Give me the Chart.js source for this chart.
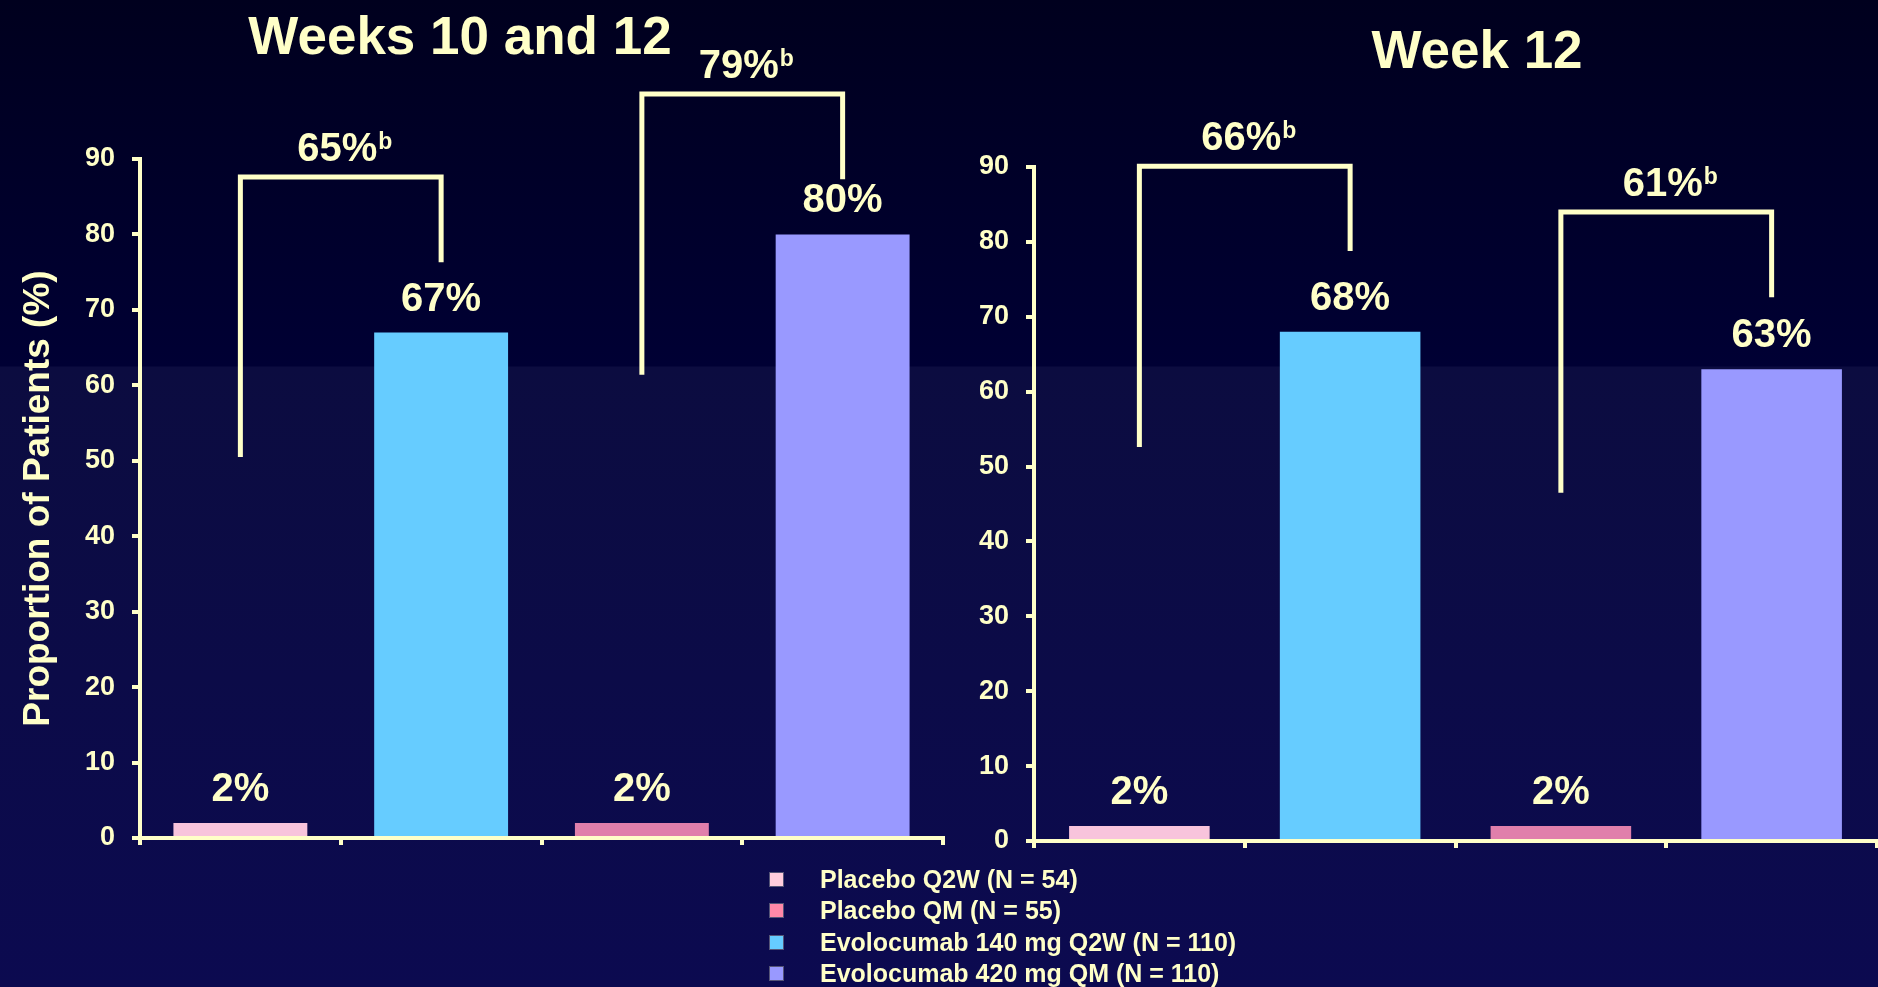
<!DOCTYPE html>
<html>
<head>
<meta charset="utf-8">
<script src="https://cdn.jsdelivr.net/npm/chart.js@4.4.1/dist/chart.umd.min.js"></script>
<style>
  html, body { margin: 0; padding: 0; width: 1878px; height: 987px; overflow: hidden; }
  body {
    position: relative;
    background: linear-gradient(to bottom, #00001e 0px, #000034 366px, #0c0c40 367px, #0c0a50 987px);
    font-family: "Liberation Sans", Arial, sans-serif;
  }
  .panel { position: absolute; top: 0; height: 987px; }
  #leftPanel { left: 0; width: 960px; }
  #rightPanel { left: 960px; width: 918px; }
  .title {
    position: absolute; color: #ffffc8; font-weight: bold; font-size: 53px;
    line-height: 53px; white-space: nowrap; transform: translateX(-50%);
  }
  #legend { position: absolute; left: 769px; top: 0; }
  .row { position: absolute; left: 0; height: 31px; line-height: 31px; white-space: nowrap;
         color: #ffffc8; font-weight: bold; font-size: 25px; }
  .swatch { position: absolute; left: 0; top: 8px; width: 13px; height: 13px; border: 1px solid #555577; }
  .row span.txt { position: absolute; left: 51px; top: 0; }
</style>
</head>
<body>
<div class="title" style="left:460px;top:9px;">Weeks 10 and 12</div>
<div class="title" style="left:1477px;top:23px;">Week 12</div>
<div class="panel" id="leftPanel"><canvas id="leftChart" width="960" height="987"></canvas></div>
<div class="panel" id="rightPanel"><canvas id="rightChart" width="918" height="987"></canvas></div>
<div id="legend"></div>

<script>
// Treatment arms, in the order the bars are drawn
const categories = ['Placebo Q2W', 'Evolocumab 140 mg Q2W', 'Placebo QM', 'Evolocumab 420 mg QM'];
const barColors = ['#f8c4dc', '#66ccff', '#e07fab', '#9999ff'];

// Proportion of patients (%) per arm
const weeks10and12Values = [2, 67, 2, 80];
const week12Values = [2, 68, 2, 63];

// Treatment differences shown by the brackets (placebo arm -> evolocumab arm)
const bracketPairs = [[0, 1], [2, 3]];
const weeks10and12Diffs = ['65%', '79%'];
const weeks10and12BracketTop = [87.6, 98.6];
const weeks10and12BracketLeftEnd = [50.5, 61.4];
const weeks10and12BracketRightEnd = [76.3, 87.3];
const week12Diffs = ['66%', '61%'];
const week12BracketTop = [90.1, 84.0];
const week12BracketLeftEnd = [52.6, 46.5];
const week12BracketRightEnd = [78.8, 72.6];

// Y axis
const yMin = 0, yMax = 90, yStep = 10;
const yTitle = 'Proportion of Patients (%)';

// Legend entries
const legendLabels = ['Placebo Q2W (N = 54)', 'Placebo QM (N = 55)', 'Evolocumab 140 mg Q2W (N = 110)', 'Evolocumab 420 mg QM (N = 110)'];
const legendColors = ['#ffccdd', '#ff88a8', '#66ccff', '#9999ff'];

const CREAM = '#ffffc8';
const FONT = '"Liberation Sans", Arial, sans-serif';

// Value labels above bars and significance brackets
const annotatePlugin = {
  id: 'annotate',
  afterDatasetsDraw(chart, args, opts) {
    const ctx = chart.ctx;
    const xs = chart.scales.x, ys = chart.scales.y;
    const meta = chart.getDatasetMeta(0);
    const values = chart.data.datasets[0].data;
    ctx.save();
    ctx.fillStyle = CREAM;
    ctx.textBaseline = 'alphabetic';
    ctx.textAlign = 'center';
    ctx.font = 'bold 40px ' + FONT;
    meta.data.forEach((bar, i) => {
      ctx.fillText(values[i] + '%', bar.x, bar.y - 22);
    });

    ctx.strokeStyle = CREAM;
    ctx.lineWidth = 5;
    ctx.lineJoin = 'miter';
    ctx.lineCap = 'butt';
    opts.pairs.forEach((pair, k) => {
      const xl = xs.getPixelForValue(pair[0]);
      const xr = xs.getPixelForValue(pair[1]);
      const yt = ys.getPixelForValue(opts.top[k]);
      ctx.beginPath();
      ctx.moveTo(xl, ys.getPixelForValue(opts.leftEnd[k]));
      ctx.lineTo(xl, yt);
      ctx.lineTo(xr, yt);
      ctx.lineTo(xr, ys.getPixelForValue(opts.rightEnd[k]));
      ctx.stroke();

      // difference label with superscript "b"
      const main = opts.labels[k];
      ctx.font = 'bold 40px ' + FONT;
      const wMain = ctx.measureText(main).width;
      ctx.font = 'bold 23px ' + FONT;
      const wSup = ctx.measureText('b').width;
      const total = wMain + 1 + wSup;
      const cx = (xl + xr) / 2 + 4;
      const base = yt - 16;
      ctx.textAlign = 'left';
      ctx.font = 'bold 40px ' + FONT;
      ctx.fillText(main, cx - total / 2, base);
      ctx.font = 'bold 23px ' + FONT;
      ctx.fillText('b', cx - total / 2 + wMain + 1, base - 12);
      ctx.textAlign = 'center';
    });
    ctx.restore();
  }
};

function makeChart(canvasId, values, yAxisWidth, padding, showTitle, bracketOpts) {
  return new Chart(document.getElementById(canvasId), {
    type: 'bar',
    data: {
      labels: categories,
      datasets: [{
        data: values,
        backgroundColor: barColors,
        borderWidth: 0,
        categoryPercentage: 1.0,
        barPercentage: 0.667
      }]
    },
    options: {
      responsive: false,
      animation: false,
      devicePixelRatio: 1,
      layout: { padding: padding },
      plugins: {
        legend: { display: false },
        tooltip: { enabled: false },
        annotate: bracketOpts
      },
      scales: {
        x: {
          grid: { display: true, offset: true, drawOnChartArea: false, drawTicks: true, tickLength: 7, color: CREAM, lineWidth: 4 },
          border: { display: true, color: CREAM, width: 4 },
          ticks: { autoSkip: false, callback: () => '' },
          afterFit: (scale) => { scale.height = 20; }
        },
        y: {
          min: yMin, max: yMax,
          grid: { display: true, drawOnChartArea: false, drawTicks: true, tickLength: 8, color: CREAM, lineWidth: 4 },
          border: { display: true, color: CREAM, width: 4 },
          ticks: { stepSize: yStep, color: CREAM, padding: 17, font: { family: FONT, size: 27, weight: 'bold' } },
          title: {
            display: showTitle, text: yTitle, color: CREAM,
            font: { family: FONT, size: 37, weight: 'bold' }, padding: { top: 17, bottom: 0 }
          },
          afterFit: (scale) => { scale.width = yAxisWidth; }
        }
      }
    },
    plugins: [annotatePlugin]
  });
}

makeChart('leftChart', weeks10and12Values, 140, { left: 0, right: 17, top: 159, bottom: 129 }, true, {
  pairs: bracketPairs, labels: weeks10and12Diffs, top: weeks10and12BracketTop,
  leftEnd: weeks10and12BracketLeftEnd, rightEnd: weeks10and12BracketRightEnd
});
makeChart('rightChart', week12Values, 74, { left: 0, right: 1, top: 167, bottom: 126 }, false, {
  pairs: bracketPairs, labels: week12Diffs, top: week12BracketTop,
  leftEnd: week12BracketLeftEnd, rightEnd: week12BracketRightEnd
});

// Legend
const legend = document.getElementById('legend');
const rowCenters = [879, 910, 942, 973];
legendLabels.forEach((label, i) => {
  const row = document.createElement('div');
  row.className = 'row';
  row.style.top = (rowCenters[i] - 15.5) + 'px';
  const sw = document.createElement('div');
  sw.className = 'swatch';
  sw.style.background = legendColors[i];
  const txt = document.createElement('span');
  txt.className = 'txt';
  txt.textContent = label;
  row.appendChild(sw);
  row.appendChild(txt);
  legend.appendChild(row);
});
</script>
</body>
</html>
